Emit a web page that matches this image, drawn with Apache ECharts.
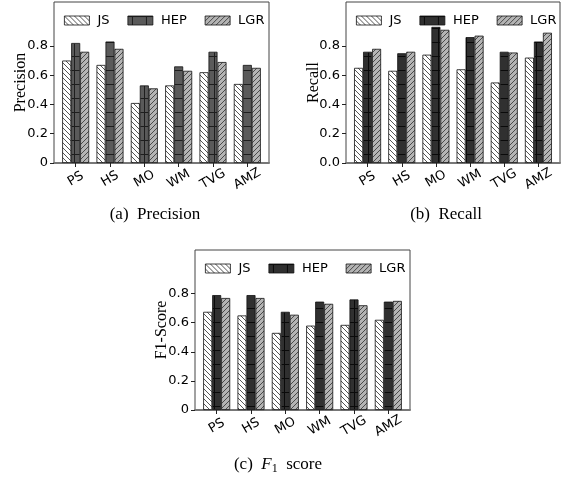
<!DOCTYPE html>
<html>
<head>
<meta charset="utf-8">
<script src="https://cdn.jsdelivr.net/npm/echarts@6/dist/echarts.min.js"></script>
<style>
  html, body { margin: 0; padding: 0; background: #fff; }
  #chart { width: 566px; height: 485px; }
</style>
</head>
<body>
<div id="chart"></div>
<script>
// data
const categories = ['PS', 'HS', 'MO', 'WM', 'TVG', 'AMZ'];
const methods = ['JS', 'HEP', 'LGR'];

const precisionJS = [0.70, 0.67, 0.41, 0.53, 0.62, 0.54];
const precisionHEP = [0.82, 0.83, 0.53, 0.66, 0.76, 0.67];
const precisionLGR = [0.76, 0.78, 0.51, 0.63, 0.69, 0.65];

const recallJS = [0.65, 0.63, 0.74, 0.64, 0.55, 0.72];
const recallHEP = [0.76, 0.75, 0.93, 0.86, 0.76, 0.83];
const recallLGR = [0.78, 0.76, 0.91, 0.87, 0.755, 0.89];

const f1JS = [0.675, 0.65, 0.53, 0.58, 0.585, 0.62];
const f1HEP = [0.79, 0.79, 0.675, 0.745, 0.76, 0.745];
const f1LGR = [0.77, 0.77, 0.655, 0.73, 0.72, 0.75];

const yTicks = [0, 0.2, 0.4, 0.6, 0.8];
const yLabelsPlain = ['0', '0.2', '0.4', '0.6', '0.8'];
const yLabelsDecimal = ['0.0', '0.2', '0.4', '0.6', '0.8'];

// hatch fills, like matplotlib's '\\\\', '+' and '////'
function hatch(bg, fg, kind, size) {
  const c = document.createElement('canvas');
  c.width = size;
  c.height = size;
  const g = c.getContext('2d');
  g.fillStyle = bg;
  g.fillRect(0, 0, size, size);
  g.strokeStyle = fg;
  g.lineWidth = 1;
  g.beginPath();
  if (kind === '/') {
    g.moveTo(-1, size + 1); g.lineTo(size + 1, -1);
    g.moveTo(-1, 1); g.lineTo(1, -1);
    g.moveTo(size - 1, size + 1); g.lineTo(size + 1, size - 1);
  } else if (kind === '\\') {
    g.moveTo(-1, -1); g.lineTo(size + 1, size + 1);
    g.moveTo(size - 1, -1); g.lineTo(size + 1, 1);
    g.moveTo(-1, size - 1); g.lineTo(1, size + 1);
  } else {
    g.moveTo(0, 0.5); g.lineTo(size, 0.5);
    g.moveTo(4.5, 0); g.lineTo(4.5, size);
  }
  g.stroke();
  return { image: c, repeat: 'repeat' };
}

const fillJS = hatch('#ffffff', '#555555', '\\', 5);
const fillLGR = hatch('#b4b4b4', '#4a4a4a', '/', 5);
const fillHEPLight = hatch('#5a5a5a', '#1e1e1e', '+', 14);
const fillHEPDark = hatch('#303030', '#0a0a0a', '+', 14);

const panels = [
  { name: 'Precision', left: 54, top: 2, width: 215, height: 161, labels: yLabelsPlain,
    values: [precisionJS, precisionHEP, precisionLGR], hep: fillHEPLight, gap: 25 },
  { name: 'Recall', left: 346, top: 2, width: 214, height: 161, labels: yLabelsDecimal,
    values: [recallJS, recallHEP, recallLGR], hep: fillHEPDark, gap: 24 },
  { name: 'F1-Score', left: 195, top: 250, width: 215, height: 160, labels: yLabelsPlain,
    values: [f1JS, f1HEP, f1LGR], hep: fillHEPDark, gap: 25 }
];

const tickFont = { fontFamily: 'DejaVu Sans', fontSize: 13, color: '#000' };
const grid = [], xAxis = [], yAxis = [], series = [], legend = [];

panels.forEach((p, i) => {
  const inset = 4.5;
  // frame grid: border box + y axis
  grid.push({ left: p.left, top: p.top, width: p.width, height: p.height,
    show: true, borderColor: '#444', borderWidth: 1, backgroundColor: 'transparent' });
  // bar grid, slightly inset like matplotlib's x margins
  grid.push({ left: p.left + inset, top: p.top, width: p.width - 2 * inset, height: p.height });

  xAxis.push({ type: 'category', gridIndex: 2 * i, data: categories,
    axisLine: { show: true, lineStyle: { color: '#777', width: 2 } },
    axisTick: { show: false }, axisLabel: { show: false } });
  xAxis.push({ type: 'category', gridIndex: 2 * i + 1, data: categories,
    axisLine: { show: false },
    axisTick: { show: true, alignWithLabel: true, length: 4, lineStyle: { color: '#222' } },
    axisLabel: Object.assign({ rotate: 30, margin: 16, align: 'center', verticalAlign: 'middle', interval: 0 }, tickFont) });

  yAxis.push({ type: 'value', gridIndex: 2 * i, min: 0, max: 1.1,
    name: p.name, nameLocation: 'middle', nameGap: p.gap, nameMoveOverlap: false,
    nameTextStyle: { fontFamily: 'Liberation Serif', fontSize: 16, color: '#000' },
    axisLine: { show: false },
    splitLine: { show: false },
    axisTick: { show: true, length: 4, customValues: yTicks, lineStyle: { color: '#222' } },
    axisLabel: Object.assign({ customValues: yTicks, margin: 6,
      formatter: v => p.labels[Math.round(v / 0.2)] }, tickFont) });
  yAxis.push({ type: 'value', gridIndex: 2 * i + 1, min: 0, max: 1.1, show: false });

  const fills = [fillJS, p.hep, fillLGR];
  methods.forEach((m, k) => {
    series.push({ type: 'bar', name: m, xAxisIndex: 2 * i + 1, yAxisIndex: 2 * i + 1,
      data: p.values[k], barWidth: 9, barGap: '0%',
      itemStyle: { color: fills[k], borderColor: '#111', borderWidth: 0.8 },
      emphasis: { disabled: true } });
  });

  legend.push({ left: p.left + 5, top: p.top + 7, icon: 'rect',
    itemWidth: 25, itemHeight: 9, itemGap: 18, selectedMode: false,
    textStyle: { fontFamily: 'DejaVu Sans', fontSize: 13, color: '#000', padding: [0, 0, 0, 3] },
    data: methods.map((m, k) => ({ name: m,
      itemStyle: { color: fills[k], borderColor: '#111', borderWidth: 0.8 } })) });
});

const capFont = { fontFamily: 'Liberation Serif', fontSize: 17, fill: '#000',
  textAlign: 'center', textVerticalAlign: 'middle' };

const option = {
  animation: false,
  backgroundColor: '#fff',
  grid, xAxis, yAxis, series, legend,
  graphic: [
    { type: 'text', x: 155, y: 215, style: Object.assign({ text: '(a)  Precision' }, capFont) },
    { type: 'text', x: 446, y: 215, style: Object.assign({ text: '(b)  Recall' }, capFont) },
    { type: 'text', x: 278, y: 465, style: Object.assign({
        text: '(c)  {it|F}{sub|1}  score',
        rich: {
          it: { fontFamily: 'Liberation Serif', fontStyle: 'italic', fontSize: 17, lineHeight: 20 },
          sub: { fontFamily: 'Liberation Serif', fontSize: 12, lineHeight: 20, padding: [8, 0, 0, 0] }
        } }, capFont) }
  ]
};

const chart = echarts.init(document.getElementById('chart'), null, { renderer: 'canvas' });
chart.setOption(option);
</script>
</body>
</html>
